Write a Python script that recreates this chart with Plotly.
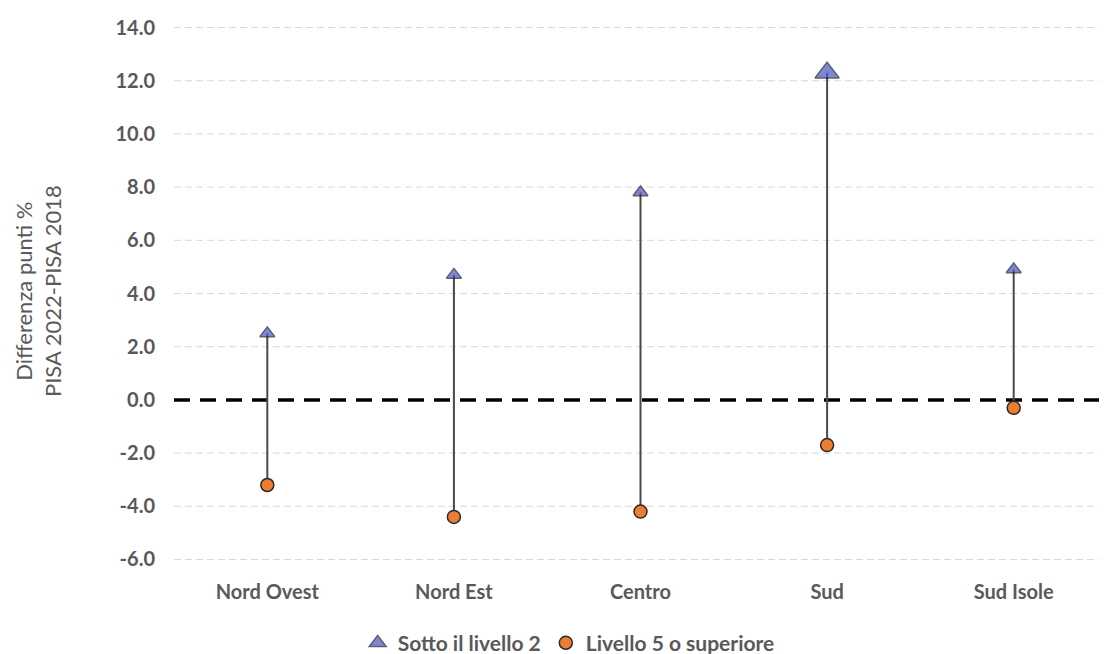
import plotly.graph_objects as go

categories = ["Nord Ovest", "Nord Est", "Centro", "Sud", "Sud Isole"]
sotto_livello2 = [2.5, 4.7, 7.8, 12.3, 4.9]
livello5_sup = [-3.2, -4.4, -4.2, -1.7, -0.3]
triangle_sizes = [13, 13, 13, 21, 13]
y_ticks = [-6, -4, -2, 0, 2, 4, 6, 8, 10, 12, 14]

FONT = "Lato"
GRAY = "#595959"

# connector segments
lx, ly = [], []
for c, a, b in zip(categories, sotto_livello2, livello5_sup):
    lx += [c, c, None]
    ly += [a, b, None]

fig = go.Figure()
fig.add_trace(go.Scatter(x=lx, y=ly, mode="lines",
                         line=dict(color="#4a4a4a", width=2),
                         showlegend=False, hoverinfo="skip"))
fig.add_trace(go.Scatter(x=categories, y=sotto_livello2, mode="markers",
                         name="Sotto il livello 2",
                         marker=dict(symbol="triangle-up", size=triangle_sizes,
                                     color="#4657c2",
                                     line=dict(color="#1c1c3a", width=1.5))))
fig.add_trace(go.Scatter(x=categories, y=livello5_sup, mode="markers",
                         name="Livello 5 o superiore",
                         marker=dict(symbol="circle", size=13,
                                     color="#ed7d31",
                                     line=dict(color="#2a2a2a", width=1.5))))

# dashed gridlines (except zero) and the heavy dashed zero line
for v in y_ticks:
    if v == 0:
        continue
    fig.add_shape(type="line", xref="paper", x0=0, x1=1, yref="y", y0=v, y1=v,
                  line=dict(color="#d9d9d9", width=1, dash="7px,4px"),
                  layer="below")
fig.add_shape(type="line", xref="paper", x0=0, x1=1, yref="y", y0=0, y1=0,
              line=dict(color="black", width=3.5, dash="16px,10px"),
              layer="below")

fig.add_annotation(text="Differenza punti %<br>PISA 2022-PISA 2018",
                   xref="paper", yref="paper", x=-0.1455, y=0.505,
                   xanchor="center", yanchor="middle",
                   showarrow=False, textangle=-90,
                   font=dict(family=FONT, size=22, color=GRAY))

fig.update_layout(
    template="none",
    width=1107, height=654,
    margin=dict(l=166, r=8, t=19, b=102, autoexpand=False),
    plot_bgcolor="white", paper_bgcolor="white",
    font=dict(family=FONT, color=GRAY),
    xaxis=dict(type="category", range=[-0.5, 4.5], showgrid=False,
               showline=False, zeroline=False, ticks="", automargin=False,
               ticklabelstandoff=18,
               tickfont=dict(family=FONT, size=20, color=GRAY, weight="bold")),
    yaxis=dict(range=[-6.02, 14.02], tickvals=y_ticks,
               ticktext=[f"{v:.1f}" for v in y_ticks],
               showgrid=False, zeroline=False, showline=False, ticks="",
               automargin=False, ticklabelstandoff=18,
               tickfont=dict(family=FONT, size=20, color=GRAY, weight="bold")),
    legend=dict(orientation="h", x=0.423, xanchor="center", y=-0.156,
                yanchor="middle", font=dict(family=FONT, size=21, color=GRAY,
                                            weight="bold"),
                itemwidth=30, tracegroupgap=0, bgcolor="rgba(0,0,0,0)"),
)

fig.write_html("out.html")
